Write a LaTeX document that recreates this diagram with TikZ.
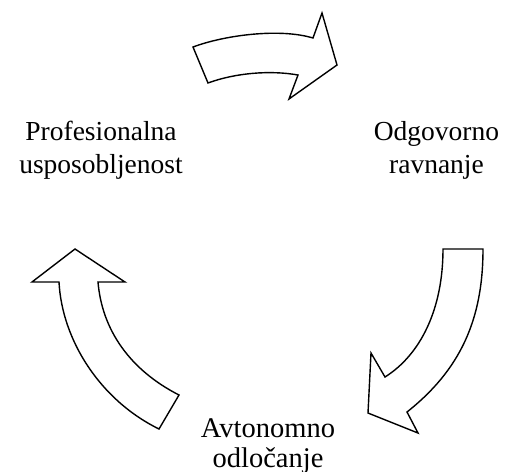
\documentclass[tikz,border=0pt]{standalone}
\usepackage{fontspec}
\setmainfont{Liberation Serif}
\begin{document}
\begin{tikzpicture}[x=1pt,y=-1pt,
  bigarrow/.style={draw=black,fill=white,line width=1.4pt,line join=miter},
  lbl/.style={align=center,font=\fontsize{27.5}{33}\selectfont,inner sep=0pt,anchor=base}]
\useasboundingbox (0,0) rectangle (507,472);
% top arrow
\draw[bigarrow] (193,47) .. controls (225,35) and (280,28) .. (313,38)
  -- (322,13) -- (337,65) -- (289,99) -- (298,75)
  .. controls (270,70) and (235,73) .. (208,83) -- cycle;
% right arrow
\draw[bigarrow] (443,249) -- (483,249)
  .. controls (483,320) and (460,370) .. (407,412)
  -- (418,433) -- (368,413) -- (371,353) -- (385,377)
  .. controls (420,355) and (443,310) .. (443,249) -- cycle;
% left arrow
\draw[bigarrow] (75,249) -- (125,282) -- (98,282)
  .. controls (102,330) and (130,370) .. (179,395)
  -- (159,429)
  .. controls (100,400) and (62,340) .. (59,282)
  -- (32,282) -- cycle;
\node[lbl] (prof) at (101,173) {Profesionalna\\usposobljenost};
\node[lbl] (odg) at (436.5,173) {Odgovorno\\ravnanje};
\node[lbl,font=\fontsize{28.5}{29.5}\selectfont] (avt) at (268,467) {Avtonomno\\odločanje};
\end{tikzpicture}
\end{document}
